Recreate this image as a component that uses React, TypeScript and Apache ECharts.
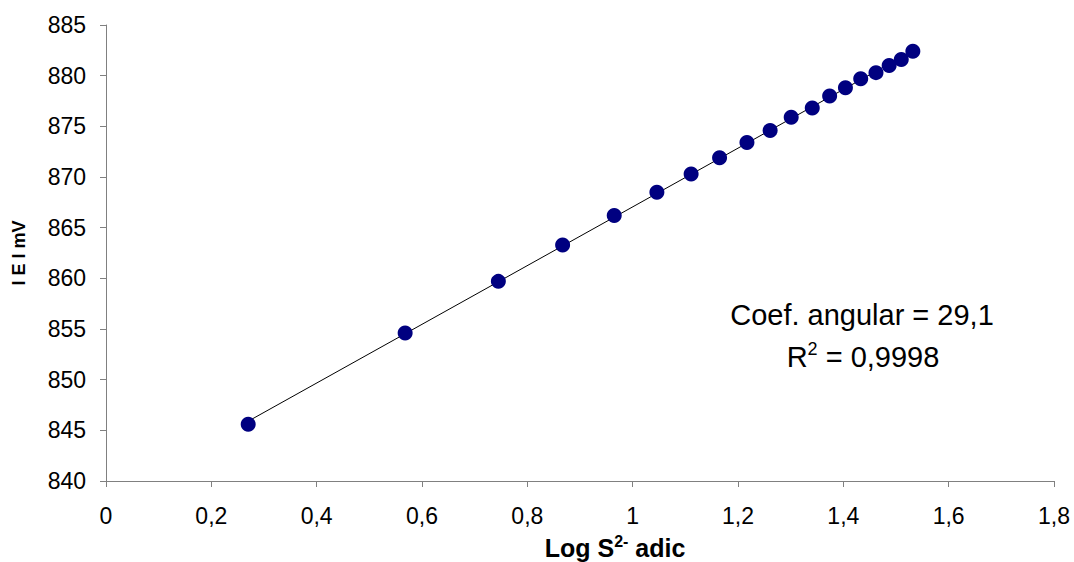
import React, { useEffect, useRef } from "react";
import * as echarts from "echarts";

const logS = [0.270, 0.568, 0.745, 0.867, 0.965, 1.046, 1.111, 1.165, 1.217, 1.261, 1.301, 1.341, 1.374, 1.404, 1.433, 1.462, 1.487, 1.510, 1.532];
const potential = [845.6, 854.6, 859.7, 863.3, 866.2, 868.5, 870.3, 871.9, 873.4, 874.6, 875.9, 876.8, 878.0, 878.8, 879.7, 880.3, 881.0, 881.6, 882.4];
const xTicks = ["0", "0,2", "0,4", "0,6", "0,8", "1", "1,2", "1,4", "1,6", "1,8"];
const annotation = ["Coef. angular = 29,1", "0,9998"];

function fit(xs: number[], ys: number[]) {
  const n = xs.length;
  const mx = xs.reduce((a, b) => a + b, 0) / n;
  const my = ys.reduce((a, b) => a + b, 0) / n;
  let sxy = 0, sxx = 0;
  for (let i = 0; i < n; i++) {
    sxy += (xs[i] - mx) * (ys[i] - my);
    sxx += (xs[i] - mx) * (xs[i] - mx);
  }
  const m = sxy / sxx;
  return { m, b: my - m * mx };
}

export default function App() {
  const ref = useRef<HTMLDivElement>(null);
  useEffect(() => {
    if (!ref.current) return;
    const chart = echarts.init(ref.current, undefined, { renderer: "svg" });
    const { m, b } = fit(logS, potential);
    const x0 = logS[0];
    const x1 = logS[logS.length - 1];
    const font = "'Liberation Sans', Arial, Helvetica, sans-serif";
    chart.setOption({
      animation: false,
      textStyle: { fontFamily: font },
      grid: { left: 106, right: 20, top: 25, bottom: 81, containLabel: false },
      xAxis: {
        type: "value",
        min: 0,
        max: 1.8,
        interval: 0.2,
        splitLine: { show: false },
        axisLine: { lineStyle: { color: "#808080", width: 1 } },
        axisTick: { inside: false, length: 6, lineStyle: { color: "#808080" } },
        axisLabel: {
          color: "#000",
          fontSize: 23,
          fontFamily: font,
          margin: 23,
          formatter: (v: number) => xTicks[Math.round(v / 0.2)] ?? "",
        },
      },
      yAxis: {
        type: "value",
        min: 840,
        max: 885,
        interval: 5,
        splitLine: { show: false },
        axisLine: { show: true, lineStyle: { color: "#808080", width: 1 } },
        axisTick: { show: true, inside: false, length: 6, lineStyle: { color: "#808080" } },
        axisLabel: { color: "#000", fontSize: 23, fontFamily: font, margin: 20 },
      },
      series: [
        {
          type: "line",
          data: [
            [x0, m * x0 + b],
            [x1, m * x1 + b],
          ],
          showSymbol: false,
          symbol: "none",
          lineStyle: { color: "#000", width: 1 },
          silent: true,
          z: 1,
        },
        {
          type: "scatter",
          data: logS.map((x, i) => [x, potential[i]]),
          symbolSize: 15,
          itemStyle: { color: "#000080", opacity: 1 },
          z: 2,
        },
      ],
      graphic: [
        {
          type: "text",
          x: 19,
          y: 253,
          rotation: Math.PI / 2,
          style: {
            text: "I E I mV",
            font: `bold 18px ${font}`,
            fill: "#000",
            textAlign: "center",
            textVerticalAlign: "middle",
          },
        },
        {
          type: "text",
          x: 615,
          y: 548,
          style: {
            text: "{n|Log S}{sup|2-}{n| adic}",
            textAlign: "center",
            textVerticalAlign: "middle",
            rich: {
              n: { fontSize: 25, fontWeight: "bold", fontFamily: font, fill: "#000" },
              sup: { fontSize: 16, fontWeight: "bold", fontFamily: font, fill: "#000", padding: [0, 0, 13, 0] },
            },
          },
        },
        {
          type: "text",
          x: 862,
          y: 315,
          style: {
            text: annotation[0],
            font: `29px ${font}`,
            fill: "#000",
            textAlign: "center",
            textVerticalAlign: "middle",
          },
        },
        {
          type: "text",
          x: 863,
          y: 357,
          style: {
            text: `{n|R}{sup|2}{n| = ${annotation[1]}}`,
            textAlign: "center",
            textVerticalAlign: "middle",
            rich: {
              n: { fontSize: 29, fontFamily: font, fill: "#000" },
              sup: { fontSize: 18, fontFamily: font, fill: "#000", padding: [0, 0, 16, 0] },
            },
          },
        },
      ],
    });
    return () => chart.dispose();
  }, []);
  return <div ref={ref} style={{ width: 1074, height: 562, position: "absolute", left: 0, top: 0 }} />;
}
